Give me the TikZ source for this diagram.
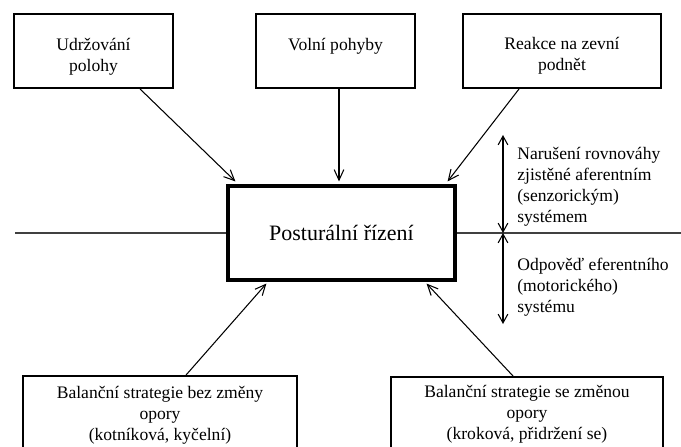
\documentclass[tikz,border=0pt]{standalone}
\usepackage{fontspec}
\setmainfont{Liberation Serif}
\usepackage{tikz}
\usetikzlibrary{arrows.meta,positioning,calc}

\begin{document}
\begin{tikzpicture}[
    x=0.2mm, y=-0.2mm,
    bx/.style={draw, line width=1.1pt, fill=white, minimum height=14.8mm, inner sep=0pt},
    bigbx/.style={draw, line width=1.8pt, fill=white, minimum width=45.4mm, minimum height=18.8mm, font=\fontsize{12.5}{15}\selectfont},
    txt/.style={align=center, inner sep=0pt, font=\fontsize{10}{12}\selectfont, anchor=north},
    side/.style={align=left, inner sep=0pt, font=\fontsize{10}{12}\selectfont, anchor=north west},
    arr/.style={-{Straight Barb[length=6pt, width=5.5pt]}, line width=0.6pt},
    dbl/.style={{Straight Barb[length=5pt, width=5.5pt]}-{Straight Barb[length=5pt, width=5.5pt]}, line width=0.6pt},
    hln/.style={line width=0.6pt, black!75}
]
\useasboundingbox (0,0) rectangle (681,447);

% horni boxy
\node[bx, minimum width=31.8mm] (udrz) at (93.5,51) {};
\node[bx, minimum width=31.8mm] (volni) at (335.5,51) {};
\node[bx, minimum width=39.6mm] (reakce) at (562,51) {};
\node[txt] (tudrz) at (93.5,38) {Udržování\\polohy};
\node[txt] (tvolni) at (335.5,38) {Volní pohyby};
\node[txt] (treakce) at (562,37) {Reakce na zevní\\podnět};

% stredni box a cara
\coordinate (lft) at (15,233);
\coordinate (rgt) at (681,233);
\draw[hln] (lft) -- (rgt);
\node[bigbx] (post) at (341.5,233) {Posturální řízení};

% dolni boxy
\node[bx, minimum width=54.8mm, minimum height=18.8mm] (bez) at (160,423) {};
\node[bx, minimum width=54.4mm, minimum height=18.8mm] (se) at (527,424) {};
\node[txt] (tbez) at (160,386) {Balanční strategie bez změny\\opory\\(kotníková, kyčelní)};
\node[txt] (tse) at (527,385) {Balanční strategie se změnou\\opory\\(kroková, přidržení se)};

% sipky
\draw[arr] ([xshift=25.4mm]udrz.south west) -- ([xshift=1.8mm, yshift=0.6mm]post.north west);
\draw[arr] ([xshift=0.7mm]volni.south) -- ([xshift=0.7mm, yshift=0.6mm]volni.south |- post.north);
\draw[arr] ([xshift=11.4mm]reakce.south west) -- ([xshift=-1.8mm, yshift=0.6mm]post.north east);
\draw[arr] ([xshift=32.8mm]bez.north west) -- ([xshift=8mm, yshift=-0.4mm]post.south west);
\draw[arr] ([xshift=24.6mm]se.north west) -- ([xshift=-6mm, yshift=-0.4mm]post.south east);

% vpravo
\coordinate (up) at (503,135);
\coordinate (mid) at (503,233);
\coordinate (dn) at (503,324);
\draw[dbl] (up) -- (mid);
\draw[dbl] (mid) -- (dn);
\node[side] (naru) at (517,147) {Narušení rovnováhy\\zjistěné aferentním\\(senzorickým)\\systémem};
\node[side] (odp) at (517,258) {Odpověď eferentního\\(motorického)\\systému};
\end{tikzpicture}
\end{document}
